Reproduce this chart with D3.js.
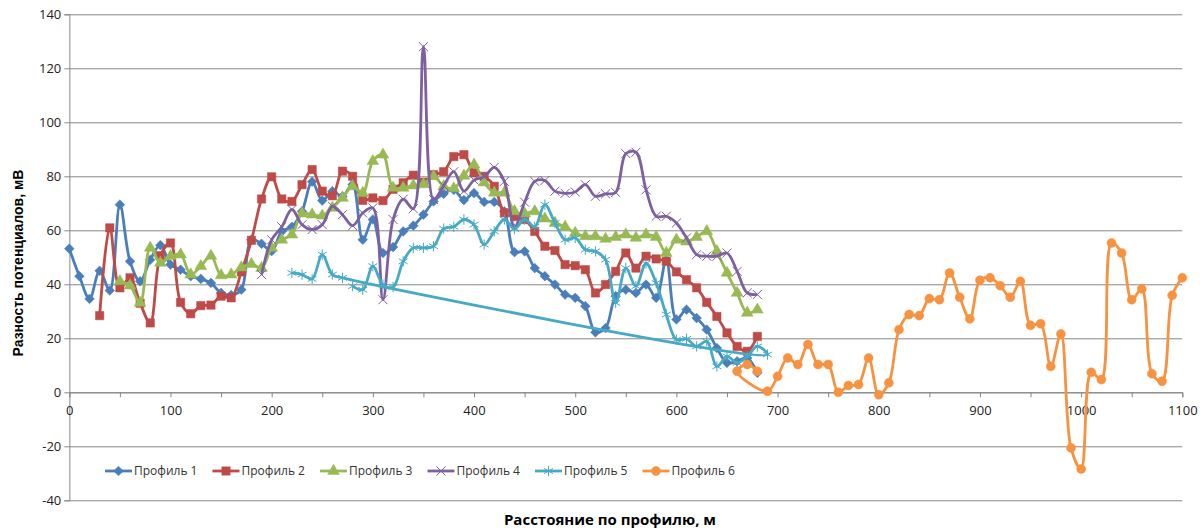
<!DOCTYPE html>
<html>
<head>
<meta charset="utf-8">
<script src="https://cdn.jsdelivr.net/npm/d3@7"></script>
<style>
  body { margin: 0; background: #fff; }
  text { font-family: "Open Sans", sans-serif; }
</style>
</head>
<body>
<svg id="chart" width="1200" height="531"></svg>
<script>
// distances (m) and potential differences (mV)
const p1Dist = [0,10,20,30,40,50,60,70,80,90,100,110,120,130,140,150,160,170,180,190,
  200,210,220,230,240,250,260,270,280,290,300,310,320,330,340,350,360,370,380,390,
  400,410,420,430,440,450,460,470,480,490,500,510,520,530,540,550,560,570,580,590,
  600,610,620,630,640,650,660,670,680];
const p1Vals = [53.2,43,34.6,45,37.7,69.5,48.5,41.1,49.1,54.5,47.3,45.4,43,42,40.5,36.8,36,38,56.5,55,
  52.3,59.6,61.3,67,78,71,74.5,72.6,77,56.5,64,51.6,53.8,59.6,61.7,65.8,70.7,73.5,75,71.2,
  73.8,70.5,70.5,67,51.9,52.2,46,43,39.9,36.2,35,31.9,22.2,23.8,35.6,38,36.8,39.9,35,49,
  27,30.6,27.5,23.2,16.4,10.9,11.5,12.7,7.2];

const p2Dist = [30,40,50,60,70,80,90,100,110,120,130,140,150,160,170,180,190,
  200,210,220,230,240,250,260,270,280,290,300,310,320,330,340,350,360,370,380,390,
  400,410,420,430,440,450,460,470,480,490,500,510,520,530,540,550,560,570,580,590,
  600,610,620,630,640,650,660,670,680];
const p2Vals = [28.4,60.9,38.7,42.4,33,25.7,50.6,55.3,33.3,29.1,32.1,32.3,35.6,35,44.6,56.3,71.6,
  79.8,71.6,70.7,76.9,82.5,74.5,72.8,81.9,80,71.1,72,71,75.2,77.6,80.4,77.8,80.6,81.7,87.3,88,
  81.3,80,76.3,66.5,65.1,64,59.6,54.1,52.5,47.3,46.9,45.4,36.8,39.9,44.8,51.6,46,50.4,49.4,48.5,
  44.6,41.7,38.7,33.3,28.1,22,17,15.2,20.7];

const p3Dist = [50,60,70,80,90,100,110,120,130,140,150,160,170,180,190,
  200,210,220,230,240,250,260,270,280,290,300,310,320,330,340,350,360,370,380,390,
  400,410,420,430,440,450,460,470,480,490,500,510,520,530,540,550,560,570,580,590,
  600,610,620,630,640,650,660,670,680];
const p3Vals = [41.1,39.5,33.1,53.5,47.9,50.4,51,43.6,46.7,50.5,43.3,43.6,46.2,47.5,46,
  53.5,56.5,58.4,66.2,65.8,65.4,68.3,72,76.3,73.8,85.6,88,75.7,75.7,76.6,77,80,76.3,75.5,80.2,
  84.3,77.7,73.9,73.9,67,66.2,67,64.3,62.7,61.3,59,57.8,57.8,56.8,57.5,58.4,57.2,58.4,57.5,51.6,
  56.5,55.8,57.5,59.6,52.2,44.2,36.8,29.4,30.6];

const p4Dist = [190,200,210,220,230,240,250,260,270,280,290,300,310,320,330,340,350,360,370,380,390,
  400,410,420,430,440,450,460,470,480,490,500,510,520,530,540,550,560,570,580,590,
  600,610,620,630,640,650,660,670,680];
const p4Vals = [43.6,56.5,61.3,67.7,62.1,60.3,62.1,68.9,65.8,61.7,66.4,68.3,34.3,64,71.5,68,128,71.4,76.5,81.7,74.5,
  78.6,79.8,83.3,78.1,61.2,70.4,78.1,78.4,74.5,73.7,74.2,76.9,72.6,73.5,74,88.4,88.9,75,65.2,65.2,
  62.7,57.2,51,50.4,50.4,51.6,44.8,36.8,36.2];

// profile 5 was recorded out of order, hence the long straight segment
const p5Dist = [220,230,240,250,260,270,690,680,670,660,650,640,630,620,610,600,590,580,570,560,550,
  540,530,520,510,500,490,480,470,460,450,440,430,420,410,400,390,380,370,360,350,340,330,320,310,
  300,290,280];
const p5Vals = [44.2,43.6,42,51,43.6,42.4,14,17,13.3,10.9,13.3,9.6,18.9,17,19.8,19.5,28.8,40.5,47.7,39.3,46,
  33.1,49.1,52.2,52.8,57.2,56.5,62.7,69.5,61.3,64,60.5,64,59.6,54.7,62.1,64,61.3,60.6,54.1,53.5,53.5,48.5,39,39.9,
  46.7,38,39.3];

const p6Dist = [680,670,660,690,700,710,720,730,740,750,760,770,780,790,800,810,820,830,840,850,860,870,880,890,
  900,910,920,930,940,950,960,970,980,990,1000,1010,1020,1030,1040,1050,1060,1070,1080,1090,1100];
const p6Vals = [7.8,10.3,7.8,0.4,5.9,12.7,10.3,17.7,10.3,10.3,0,2.5,2.9,12.7,-0.9,3.5,23.2,28.8,28.4,34.7,34.3,44.2,35.2,27.2,
  41.5,42.4,39.5,35.2,41.1,24.8,25.4,9.6,21.6,-20.6,-28.4,7.4,4.7,55.3,51.6,34.3,38.3,6.9,4.1,35.9,42.4];

const seriesNames = ["Профиль 1","Профиль 2","Профиль 3","Профиль 4","Профиль 5","Профиль 6"];
const xTicks = [0,100,200,300,400,500,600,700,800,900,1000,1100];
const xMinorTicks = [0,50,100,150,200,250,300,350,400,450,500,550,600,650,700,750,800,850,900,950,1000,1050,1100];
const yTicks = [-40,-20,0,20,40,60,80,100,120,140];
const xTitle = "Расстояние по профилю, м";
const yTitle = "Разность потенциалов, мВ";

const series = [
  { dist: p1Dist, vals: p1Vals, color: "#4A7EBB", sym: d3.symbolDiamond2, size: 60, stroke: false },
  { dist: p2Dist, vals: p2Vals, color: "#BE4B48", sym: d3.symbolSquare, size: 70, stroke: false },
  { dist: p3Dist, vals: p3Vals, color: "#98B954", sym: d3.symbolTriangle, size: 60, stroke: false },
  { dist: p4Dist, vals: p4Vals, color: "#7D60A0", sym: d3.symbolTimes, size: 55, stroke: true },
  { dist: p5Dist, vals: p5Vals, color: "#46AAC5", sym: d3.symbolAsterisk, size: 75, stroke: true },
  { dist: p6Dist, vals: p6Vals, color: "#F69240", sym: d3.symbolCircle, size: 64, stroke: false },
];

const svg = d3.select("#chart");
const plotLeft = 69.3, plotRight = 1182.3, plotTop = 14.3, plotBottom = 500.3;

const x = d3.scaleLinear().domain([0, 1100]).range([plotLeft, plotRight]);
const y = d3.scaleLinear().domain([-40, 140]).range([plotBottom, plotTop]);

// horizontal gridlines + left tick labels (plain hyphen for negatives, like the original)
const yAxis = d3.axisLeft(y).tickValues(yTicks).tickSize(5).tickPadding(3)
  .tickFormat((d) => String(d));
const gy = svg.append("g").attr("transform", `translate(${plotLeft},0)`).call(yAxis);
gy.select(".domain").attr("stroke", "#b0b0b0").attr("stroke-width", 1.5);
gy.selectAll(".tick line").attr("stroke", "#878787");
gy.selectAll(".tick")
  .append("line")
  .attr("x2", plotRight - plotLeft)
  .attr("stroke", "#878787");
gy.selectAll("text")
  .attr("font-family", "Open Sans")
  .attr("font-size", 13)
  .attr("fill", "#222");

// x axis sits on y = 0
const xAxis = d3.axisBottom(x)
  .tickValues(xMinorTicks)
  .tickSize(5)
  .tickPadding(8)
  .tickFormat((d) => (xTicks.includes(d) ? String(d) : ""));
const gx = svg.append("g").attr("transform", `translate(0,${y(0)})`).call(xAxis);
gx.select(".domain").attr("stroke", "#878787");
gx.selectAll(".tick line").attr("stroke", "#878787");
gx.selectAll("text")
  .attr("font-family", "Open Sans")
  .attr("font-size", 13)
  .attr("fill", "#222");

// series
const line = d3.line()
  .x((d) => x(d[0]))
  .y((d) => y(d[1]))
  .curve(d3.curveCatmullRom.alpha(0.5));

series.forEach((s) => {
  const pts = s.dist.map((d, i) => [d, s.vals[i]]);
  const g = svg.append("g");
  g.append("path")
    .datum(pts)
    .attr("d", line)
    .attr("fill", "none")
    .attr("stroke", s.color)
    .attr("stroke-width", 2.8)
    .attr("stroke-linejoin", "round");
  g.selectAll("path.mk")
    .data(pts)
    .join("path")
    .attr("class", "mk")
    .attr("transform", (d) => `translate(${x(d[0])},${y(d[1])})`)
    .attr("d", d3.symbol().type(s.sym).size(s.size))
    .attr("fill", s.stroke ? "none" : s.color)
    .attr("stroke", s.color)
    .attr("stroke-width", s.stroke ? 1 : 0.5);
});

// legend
const legend = svg.append("g");
seriesNames.forEach((name, i) => {
  const s = series[i];
  const lx = 105 + i * 107.5, ly = 471;
  legend.append("line")
    .attr("x1", lx).attr("x2", lx + 27)
    .attr("y1", ly).attr("y2", ly)
    .attr("stroke", s.color)
    .attr("stroke-width", 2.8);
  legend.append("path")
    .attr("transform", `translate(${lx + 13.5},${ly})`)
    .attr("d", d3.symbol().type(s.sym).size(s.size))
    .attr("fill", s.stroke ? "none" : s.color)
    .attr("stroke", s.color)
    .attr("stroke-width", s.stroke ? 1 : 0.5);
  legend.append("text")
    .attr("x", lx + 29).attr("y", ly)
    .attr("dy", "0.35em")
    .attr("font-size", 12)
    .attr("fill", "#333")
    .text(name);
});

// axis titles
svg.append("text")
  .attr("x", 610).attr("y", 525)
  .attr("text-anchor", "middle")
  .attr("font-size", 15)
  .attr("font-weight", "bold")
  .attr("fill", "#000")
  .text(xTitle);

svg.append("text")
  .attr("transform", "translate(23,263) rotate(-90)")
  .attr("text-anchor", "middle")
  .attr("font-size", 14)
  .attr("font-weight", "bold")
  .attr("fill", "#000")
  .style("font-family", "Liberation Sans")
  .text(yTitle);
</script>
</body>
</html>
